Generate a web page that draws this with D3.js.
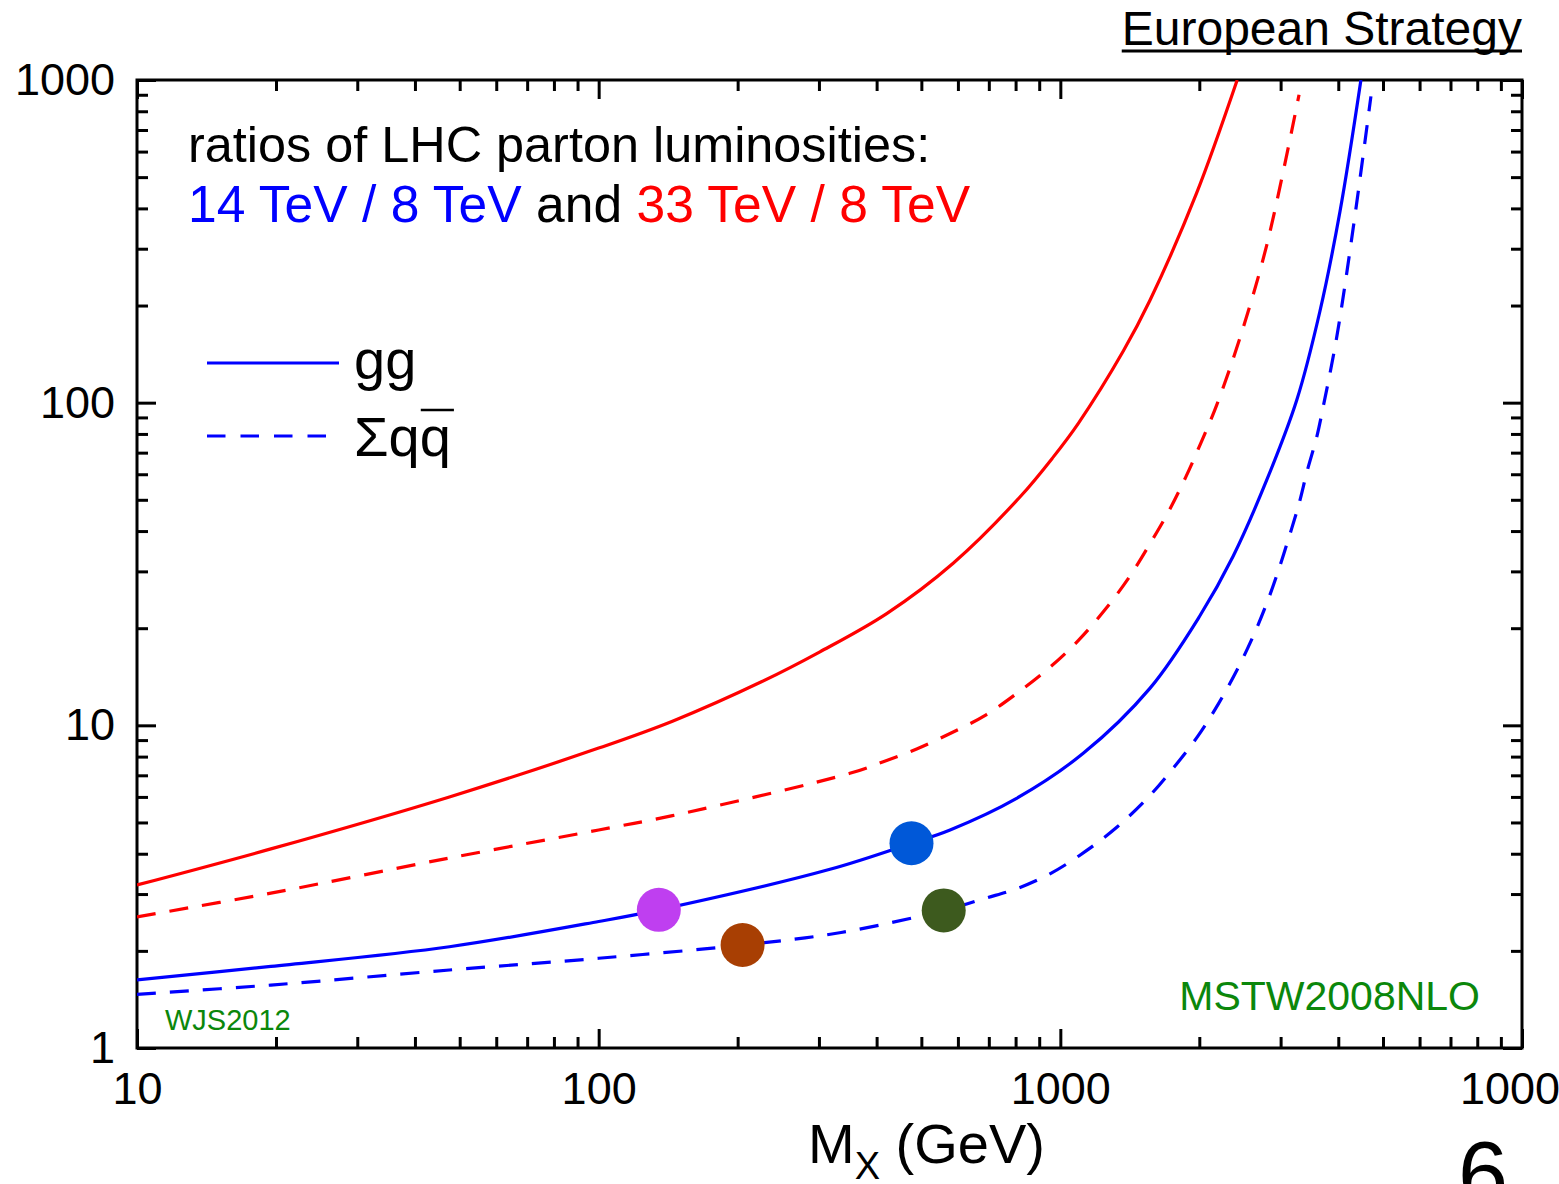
<!DOCTYPE html>
<html>
<head>
<meta charset="utf-8">
<script src="https://cdn.jsdelivr.net/npm/d3@7"></script>
<style>
  html, body { margin: 0; padding: 0; background: #fff; }
  svg { display: block; font-family: "Liberation Sans", Arial, Helvetica, sans-serif; }
</style>
</head>
<body>
<svg id="chart" width="1559" height="1184"></svg>
<script>
// Parton luminosity ratios (MSTW2008NLO), mass M_X in GeV
// gg, 33 TeV / 8 TeV
const massGG33 = [10, 19.5, 47.5, 100, 144.5, 225.8, 301.5, 420.6, 586, 817.5, 965, 1094, 1368, 1563, 1973, 2416];
const ratioGG33 = [3.2, 4.14, 6.0, 8.5, 10.3, 13.67, 16.9, 22.2, 31.8, 51.0, 67.8, 86.3, 144.3, 207.3, 445.9, 1000];

// sum qqbar, 33 TeV / 8 TeV
const massQQ33 = [10, 19.5, 47.5, 100, 144.5, 350, 413.5, 488.5, 578.6, 689, 811, 953, 1097, 1249, 1408,
                  1563, 1719, 1868, 2014, 2181, 2449, 2800, 3289];
const ratioQQ33 = [2.55, 3.02, 3.88, 4.74, 5.25, 7.10, 7.71, 8.45, 9.45, 10.76, 12.66, 15.2, 18.4, 22.8, 28.7,
                   36.5, 46.2, 58.7, 74.8, 98.3, 158.6, 308, 900];

// gg, 14 TeV / 8 TeV
const massGG14 = [10, 19.5, 47.5, 100, 135, 317, 476, 577, 804, 1121, 1563, 2000, 2369, 2800, 3252, 3650, 4035, 4478];
const ratioGG14 = [1.625, 1.79, 2.06, 2.466, 2.68, 3.58, 4.31, 4.74, 5.94, 8.19, 13.02, 21.7, 33.5, 57.6, 101.9, 192, 392, 1000];

// sum qqbar, 14 TeV / 8 TeV
const massQQ14 = [10, 19.5, 47.5, 100, 205, 335, 559, 687, 811, 958, 1131, 1329, 1550, 1762, 1989, 2198,
                  2409, 2604, 2797, 2965, 3127, 3287, 3426, 3591, 3710, 3966, 4309, 4707];
const ratioQQ14 = [1.467, 1.567, 1.745, 1.897, 2.085, 2.28, 2.67, 2.91, 3.13, 3.49, 4.06, 4.85, 5.98, 7.41, 9.29, 11.64,
                   14.77, 18.6, 23.8, 30.1, 38.2, 48.5, 61.5, 78.1, 97.1, 158.6, 347.6, 889.6];

// Highlighted points on the 14/8 TeV curves
const markerMass = [135, 205, 476, 559];
const markerRatio = [2.68, 2.085, 4.31, 2.67];
const markerColor = ["#bf3ff0", "#a83f03", "#0058d8", "#3d5a1e"];

// Axis ticks
const xMajorTicks = [10, 100, 1000, 10000];
const xTickLabels = ["10", "100", "1000", "10000"];
const yMajorTicks = [1, 10, 100, 1000];
const yTickLabels = ["1", "10", "100", "1000"];
const decadeSteps = [2, 3, 4, 5, 6, 7, 8, 9];

const svg = d3.select("#chart");
const plotLeft = 137, plotRight = 1522, plotTop = 80, plotBottom = 1048;

const x = d3.scaleLog().domain([10, 10000]).range([plotLeft, plotRight]);
const y = d3.scaleLog().domain([1, 1000]).range([plotBottom, plotTop]);

const xMinor = [10, 100, 1000].flatMap(d => decadeSteps.map(s => d * s));
const yMinor = [1, 10, 100].flatMap(d => decadeSteps.map(s => d * s));

// clip for curves
svg.append("defs").append("clipPath").attr("id", "plotClip")
  .append("rect").attr("x", plotLeft).attr("y", plotTop)
  .attr("width", plotRight - plotLeft).attr("height", plotBottom - plotTop);

function styleAxis(g) {
  g.select(".domain").remove();
  g.selectAll(".tick line").attr("stroke", "#000").attr("stroke-width", 3);
  g.selectAll(".tick text").attr("fill", "#000").attr("font-size", 45)
    .attr("font-family", "'Liberation Sans', Arial, sans-serif");
}

// bottom axis: major + minor, ticks pointing inward
svg.append("g").attr("transform", `translate(0,${plotBottom})`)
  .call(d3.axisBottom(x).tickValues(xMajorTicks).tickSize(-19).tickPadding(24)
    .tickFormat((d, i) => xTickLabels[i]))
  .call(styleAxis);
svg.append("g").attr("transform", `translate(0,${plotBottom})`)
  .call(d3.axisBottom(x).tickValues(xMinor).tickSize(-11).tickFormat(""))
  .call(styleAxis);
// top axis mirror
svg.append("g").attr("transform", `translate(0,${plotTop})`)
  .call(d3.axisTop(x).tickValues(xMajorTicks).tickSize(-19).tickFormat(""))
  .call(styleAxis);
svg.append("g").attr("transform", `translate(0,${plotTop})`)
  .call(d3.axisTop(x).tickValues(xMinor).tickSize(-11).tickFormat(""))
  .call(styleAxis);
// left axis
svg.append("g").attr("transform", `translate(${plotLeft},0)`)
  .call(d3.axisLeft(y).tickValues(yMajorTicks).tickSize(-19).tickPadding(22)
    .tickFormat((d, i) => yTickLabels[i]))
  .call(styleAxis);
svg.append("g").attr("transform", `translate(${plotLeft},0)`)
  .call(d3.axisLeft(y).tickValues(yMinor).tickSize(-11).tickFormat(""))
  .call(styleAxis);
// right axis mirror
svg.append("g").attr("transform", `translate(${plotRight},0)`)
  .call(d3.axisRight(y).tickValues(yMajorTicks).tickSize(-19).tickFormat(""))
  .call(styleAxis);
svg.append("g").attr("transform", `translate(${plotRight},0)`)
  .call(d3.axisRight(y).tickValues(yMinor).tickSize(-11).tickFormat(""))
  .call(styleAxis);

// frame
svg.append("rect").attr("x", plotLeft).attr("y", plotTop)
  .attr("width", plotRight - plotLeft).attr("height", plotBottom - plotTop)
  .attr("fill", "none").attr("stroke", "#000").attr("stroke-width", 3);

// curves
const line = d3.line().x(d => x(d[0])).y(d => y(d[1])).curve(d3.curveCatmullRom.alpha(0.5));
const series = [
  { mass: massGG33, ratio: ratioGG33, color: "#ff0000", dash: null },
  { mass: massQQ33, ratio: ratioQQ33, color: "#ff0000", dash: "19,14" },
  { mass: massGG14, ratio: ratioGG14, color: "#0000ff", dash: null },
  { mass: massQQ14, ratio: ratioQQ14, color: "#0000ff", dash: "19,14" }
];
const curves = svg.append("g").attr("clip-path", "url(#plotClip)");
series.forEach(s => {
  curves.append("path")
    .datum(s.mass.map((m, i) => [m, s.ratio[i]]))
    .attr("d", line)
    .attr("fill", "none")
    .attr("stroke", s.color)
    .attr("stroke-width", 3.2)
    .attr("stroke-dasharray", s.dash);
});

// markers
svg.append("g").selectAll("circle")
  .data(markerMass.map((m, i) => ({ m, r: markerRatio[i], c: markerColor[i] })))
  .join("circle")
  .attr("cx", d => x(d.m)).attr("cy", d => y(d.r)).attr("r", 22)
  .attr("fill", d => d.c);

// header text
svg.append("text").attr("x", 188).attr("y", 162).attr("font-size", 50.4).attr("fill", "#000")
  .text("ratios of LHC parton luminosities:");
const sub = svg.append("text").attr("x", 188).attr("y", 222).attr("font-size", 51.6);
sub.append("tspan").attr("fill", "#0000ff").text("14 TeV / 8 TeV");
sub.append("tspan").attr("fill", "#000").text(" and ");
sub.append("tspan").attr("fill", "#ff0000").text("33 TeV / 8 TeV");

// legend
svg.append("line").attr("x1", 207).attr("x2", 339).attr("y1", 363).attr("y2", 363)
  .attr("stroke", "#0000ff").attr("stroke-width", 3.2);
svg.append("line").attr("x1", 207).attr("x2", 339).attr("y1", 436).attr("y2", 436)
  .attr("stroke", "#0000ff").attr("stroke-width", 3.2).attr("stroke-dasharray", "18.5,15");
svg.append("text").attr("x", 354).attr("y", 379).attr("font-size", 56).attr("fill", "#000").text("gg");
const sq = svg.append("text").attr("x", 354).attr("y", 456).attr("font-size", 56).attr("fill", "#000").text("Σq");
const sqW = sq.node().getComputedTextLength();
const qbar = svg.append("text").attr("x", 354 + sqW).attr("y", 456).attr("font-size", 56).attr("fill", "#000").text("q");
const qW = qbar.node().getComputedTextLength();
svg.append("line").attr("x1", 354 + sqW + 1).attr("x2", 354 + sqW + qW + 3).attr("y1", 410).attr("y2", 410)
  .attr("stroke", "#000").attr("stroke-width", 2.5);

// top-right title, underlined
const title = svg.append("text").attr("x", plotRight).attr("y", 45).attr("text-anchor", "end")
  .attr("font-size", 48).attr("fill", "#000").text("European Strategy");
const tW = title.node().getComputedTextLength();
svg.append("line").attr("x1", plotRight - tW).attr("x2", plotRight).attr("y1", 51).attr("y2", 51)
  .attr("stroke", "#000").attr("stroke-width", 3);

// credits
svg.append("text").attr("x", 165).attr("y", 1030).attr("font-size", 29).attr("fill", "#0b870b").text("WJS2012");
svg.append("text").attr("x", 1480).attr("y", 1010).attr("text-anchor", "end")
  .attr("font-size", 41).attr("fill", "#0b870b").text("MSTW2008NLO");

// x-axis title
const xt = svg.append("text").attr("x", 808).attr("y", 1163).attr("font-size", 56).attr("fill", "#000");
xt.append("tspan").text("M");
xt.append("tspan").attr("font-size", 38).attr("dy", 16).text("X");
xt.append("tspan").attr("dy", -16).text(" (GeV)");

// page number
svg.append("text").attr("x", 1458).attr("y", 1205).attr("font-size", 90).attr("fill", "#000").text("6");
</script>
</body>
</html>
